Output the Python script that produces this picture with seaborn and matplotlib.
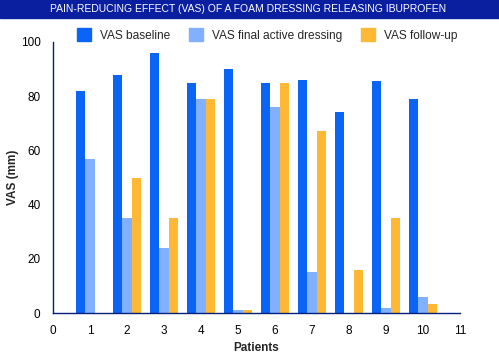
import matplotlib
matplotlib.use('Agg')
import matplotlib.pyplot as plt
import seaborn as sns
import pandas as pd
from matplotlib.patches import Rectangle

# Дані
patients = [1, 2, 3, 4, 5, 6, 7, 8, 9, 10]
vas_baseline = [82, 88, 96, 85, 90, 85, 86, 74, 85.5, 79]
vas_final = [57, 35, 24, 79, 1, 76, 15, 0, 2, 6]
vas_followup = [0, 50, 35, 79, 1, 85, 67, 16, 35, 3.5]
series_names = ['VAS baseline', 'VAS final active dressing', 'VAS follow-up']
colors = ['#0A64F5', '#80B0FF', '#FFB833']
title = 'PAIN-REDUCING EFFECT (VAS) OF A FOAM DRESSING RELEASING IBUPROFEN'

df = pd.DataFrame({
    'patient': patients * 3,
    'vas': vas_baseline + vas_final + vas_followup,
    'series': [s for s in series_names for _ in patients],
})

sns.set_style('white')
plt.rcParams['font.family'] = ['Liberation Sans', 'DejaVu Sans']

W, H = 499, 355
fig = plt.figure(figsize=(W / 100, H / 100), dpi=100)
ax = fig.add_axes([53 / W, (H - 313) / H, (460 - 53) / W, (313 - 42) / H])

sns.barplot(data=df, x='patient', y='vas', hue='series', hue_order=series_names,
            palette=colors, native_scale=True, width=0.75, saturation=1,
            errorbar=None, ax=ax, legend=False, linewidth=0)

navy = '#00207A'
ax.set_xlim(0, 11)
ax.set_ylim(0, 100)
ax.set_xticks(range(0, 12))
ax.set_yticks(range(0, 101, 20))
for side in ['top', 'right']:
    ax.spines[side].set_visible(False)
for side in ['left', 'bottom']:
    ax.spines[side].set_color(navy)
    ax.spines[side].set_linewidth(1.0)
ax.tick_params(axis='both', colors=navy, labelcolor='black', labelsize=8.5,
               length=5, width=1, direction='out', pad=4)
ax.set_xlabel('Patients', fontsize=8.5, fontweight='bold', labelpad=3)
ax.set_ylabel('VAS (mm)', fontsize=8.5, fontweight='bold', labelpad=1)

# легенда над графіком
handles = [Rectangle((0, 0), 1, 1, color=c) for c in colors]
fig.legend(handles, series_names, loc='center left', ncol=3, frameon=False,
           bbox_to_anchor=(77 / W, 1 - 35 / H), fontsize=8.6,
           handlelength=1.2, handleheight=1.2, handletextpad=0.7,
           columnspacing=1.6, borderaxespad=0, borderpad=0)

# смуга заголовка
fig.patches.append(Rectangle((0, 1 - 18 / H), 1, 18 / H, transform=fig.transFigure,
                             color='#0A1EA0', zorder=0))
fig.text(0.497, 1 - 9.5 / H, title, color='white', ha='center', va='center',
         fontsize=7.5)

fig.savefig('out.png', dpi=100)
